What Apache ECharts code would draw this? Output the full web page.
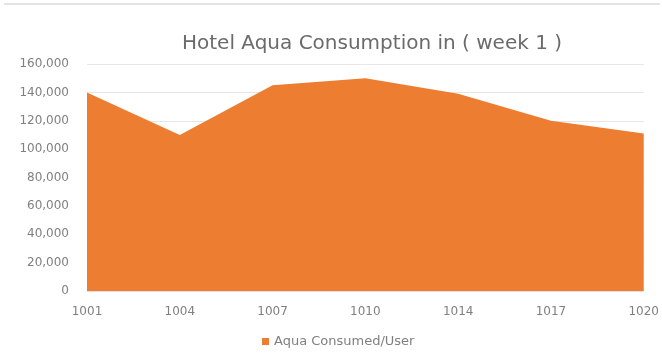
<!DOCTYPE html>
<html>
<head>
<meta charset="utf-8">
<script src="https://cdn.jsdelivr.net/npm/echarts@6/dist/echarts.min.js"></script>
<style>
  html, body { margin: 0; padding: 0; background: #fff; }
  #chart { width: 662px; height: 358px; }
</style>
</head>
<body>
<div id="chart"></div>
<script>
// Room numbers along the x axis
const rooms = ['1001', '1004', '1007', '1010', '1014', '1017', '1020'];
// Water consumed per user for each room
const consumed = [140000, 110000, 145000, 150000, 139000, 120000, 111000];
// Value axis ticks
const yTicks = [0, 20000, 40000, 60000, 80000, 100000, 120000, 140000, 160000];

const chart = echarts.init(document.getElementById('chart'));
const fontFamily = 'DejaVu Sans';
chart.setOption({
  animation: false,
  backgroundColor: '#ffffff',
  title: {
    text: 'Hotel Aqua Consumption in ( week 1 )',
    left: 177,
    top: 29,
    textStyle: { fontFamily, fontSize: 20, fontWeight: 'normal', color: '#6b6b6b' }
  },
  graphic: [{
    type: 'line',
    shape: { x1: 4, y1: 4, x2: 660, y2: 4 },
    style: { stroke: '#e4e4e4', lineWidth: 2 }
  }],
  legend: {
    data: ['Aqua Consumed/User'],
    bottom: 5,
    left: 257,
    icon: 'rect',
    itemWidth: 7,
    itemHeight: 7,
    itemGap: 6,
    textStyle: { fontFamily, fontSize: 13, color: '#808080' }
  },
  grid: { left: 87, right: 18, top: 64, bottom: 67 },
  xAxis: {
    type: 'category',
    data: rooms,
    boundaryGap: false,
    axisLine: { show: true, lineStyle: { color: '#e0e0e0' } },
    axisTick: { show: false },
    axisLabel: { fontFamily, fontSize: 12, color: '#808080', margin: 15 }
  },
  yAxis: {
    type: 'value',
    min: yTicks[0],
    max: yTicks[yTicks.length - 1],
    interval: yTicks[1] - yTicks[0],
    axisLine: { show: false },
    axisTick: { show: false },
    splitLine: { lineStyle: { color: '#e6e6e6' } },
    axisLabel: {
      fontFamily, fontSize: 12, color: '#808080', margin: 18,
      formatter: v => v.toLocaleString('en-US')
    }
  },
  series: [{
    name: 'Aqua Consumed/User',
    type: 'line',
    data: consumed,
    symbol: 'none',
    lineStyle: { width: 0, color: '#ED7D31' },
    itemStyle: { color: '#ED7D31' },
    areaStyle: { color: '#ED7D31', opacity: 1 }
  }]
});
</script>
</body>
</html>
